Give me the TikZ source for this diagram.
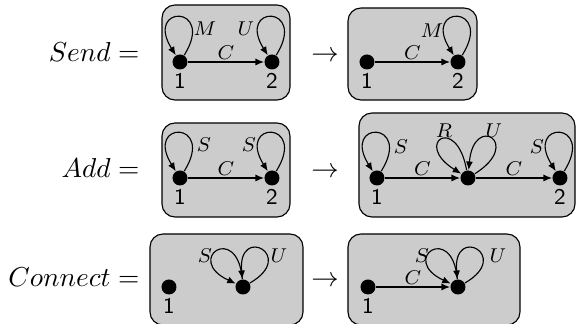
\documentclass[tikz,border=0pt]{standalone}
\usetikzlibrary{arrows.meta}
\tikzset{
  box/.style={draw=black, fill=black!20, rounded corners=5.2pt, line width=0.45pt},
  vtx/.style={circle, fill=black, inner sep=0pt, minimum size=6pt},
  edge/.style={-{Latex[length=3.4pt,width=2.8pt]}, line width=0.45pt},
  lbl/.style={inner sep=0.8pt, font=\fontsize{8}{9.6}\selectfont},
  num/.style={font=\fontsize{9}{10.8}\selectfont\sffamily, inner sep=0pt},
  big/.style={font=\fontsize{10.95}{13}\selectfont, inner sep=0pt},
  sideloop/.style={edge, out=58, in=122, distance=24pt},
}
\begin{document}
\begin{tikzpicture}[x=0.4pt, y=-0.4pt]
\useasboundingbox (0,0) rectangle (576,324);

% ---------- Send ----------
\node[big, anchor=base east] (tsend) at (140,62) {$Send =$};
\draw[box] (162,5) rectangle (290,100);
\node[big, anchor=base] (ar1) at (325,62) {$\rightarrow$};
\draw[box] (348,8) rectangle (477,100);

\node[vtx, label={[num,label distance=1.2pt]below:1}] (sa1) at (180,62) {};
\node[vtx, label={[num,label distance=1.2pt]below:2}] (sa2) at (272,62) {};
\draw[edge] (sa1) -- node[lbl, above] (csa) {$C$} (sa2);
\draw[sideloop] (sa1) to (sa1);
\draw[sideloop] (sa2) to (sa2);
\node[lbl] (msa) at (205,29) {$M$};
\node[lbl] (usa) at (246,29) {$U$};

\node[vtx, label={[num,label distance=1.2pt]below:1}] (sb1) at (367,62) {};
\node[vtx, label={[num,label distance=1.2pt]below:2}] (sb2) at (458,62) {};
\draw[edge] (sb1) -- node[lbl, above] (csb) {$C$} (sb2);
\draw[sideloop] (sb2) to (sb2);
\node[lbl] (msb) at (432,31) {$M$};

% ---------- Add ----------
\node[big, anchor=base east] (tadd) at (140,178) {$Add =$};
\draw[box] (162,123) rectangle (290,217);
\node[big, anchor=base] (ar2) at (325,178) {$\rightarrow$};
\draw[box] (359,113) rectangle (575,217);

\node[vtx, label={[num,label distance=1.2pt]below:1}] (aa1) at (180,178) {};
\node[vtx, label={[num,label distance=1.2pt]below:2}] (aa2) at (272,178) {};
\draw[edge] (aa1) -- node[lbl, above] (caa) {$C$} (aa2);
\draw[sideloop] (aa1) to (aa1);
\draw[sideloop] (aa2) to (aa2);
\node[lbl] (saa1) at (204,145) {$S$};
\node[lbl] (saa2) at (249,145) {$S$};

\node[vtx, label={[num,label distance=1.2pt]below:1}] (ab1) at (377,178) {};
\node[vtx] (abm) at (468,178) {};
\node[vtx, label={[num,label distance=1.2pt]below:2}] (ab2) at (560,178) {};
\draw[edge] (ab1) -- node[lbl, above] (cab1) {$C$} (abm);
\draw[edge] (abm) -- node[lbl, above] (cab2) {$C$} (ab2);
\draw[sideloop] (ab1) to (ab1);
\draw[sideloop] (ab2) to (ab2);
\draw[edge] (abm) to[out=100, in=148, distance=23pt] (abm);
\draw[edge] (abm) to[out=32, in=85, distance=23pt] (abm);
\node[lbl] (sab1) at (401,147) {$S$};
\node[lbl] (rab) at (444,131) {$R$};
\node[lbl] (uab) at (494,131) {$U$};
\node[lbl] (sab2) at (537,147) {$S$};

% ---------- Connect ----------
\node[big, anchor=base east] (tcon) at (140,287) {$Connect =$};
\draw[box] (150,234) rectangle (303,325);
\node[big, anchor=base] (ar3) at (325,287) {$\rightarrow$};
\draw[box] (348,234) rectangle (520,325);

\node[vtx, label={[num,label distance=1.2pt]below:1}] (ca1) at (169,287) {};
\node[vtx] (cam) at (243,287) {};
\draw[edge] (cam) to[out=95, in=155, distance=23pt] (cam);
\draw[edge] (cam) to[out=30, in=95, distance=22pt] (cam);
\node[lbl] (sca) at (205,256) {$S$};
\node[lbl] (uca) at (279,256) {$U$};

\node[vtx, label={[num,label distance=1.2pt]below:1}] (cb1) at (368,287) {};
\node[vtx] (cbm) at (458,287) {};
\draw[edge] (cb1) -- node[lbl, above] (ccb) {$C$} (cbm);
\draw[edge] (cbm) to[out=95, in=155, distance=23pt] (cbm);
\draw[edge] (cbm) to[out=30, in=95, distance=22pt] (cbm);
\node[lbl] (scb) at (422,256) {$S$};
\node[lbl] (ucb) at (498,256) {$U$};
\end{tikzpicture}
\end{document}
